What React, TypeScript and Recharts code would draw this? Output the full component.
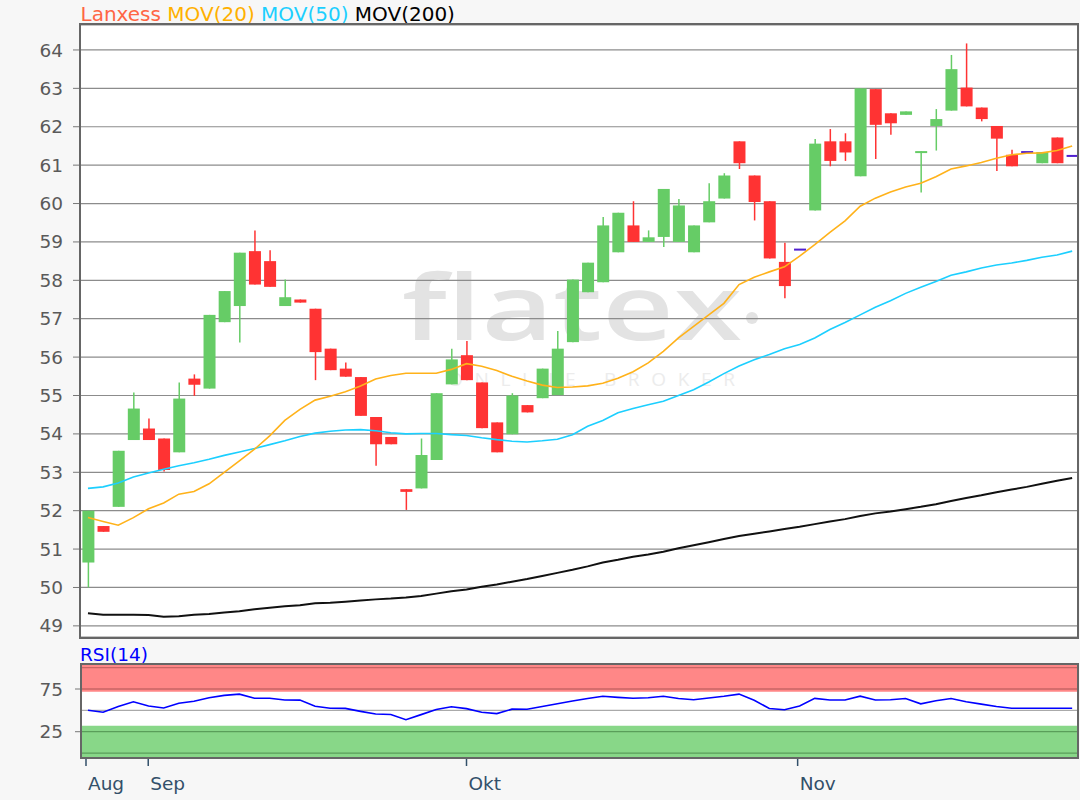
import React from "react";
import {
  ComposedChart,
  Bar,
  Line,
  XAxis,
  YAxis,
  CartesianGrid,
  ReferenceArea,
  ReferenceLine,
} from "recharts";

const FONT = '"DejaVu Sans", Verdana, sans-serif';

// daily candles, Lanxess
const OPEN = [
  50.65, 51.6, 52.1, 53.84, 54.14, 53.88, 53.52, 55.44, 55.18, 56.91,
  57.33, 58.76, 58.5, 57.33, 57.5, 57.26, 56.22, 55.7, 55.48, 54.44,
  53.92, 52.56, 52.58, 53.32, 55.29, 56.05, 55.34, 54.3, 53.99, 54.75,
  54.93, 55.01, 56.39, 57.69, 57.95, 58.73, 59.43, 59.0, 59.13, 59.0,
  58.73, 59.51, 60.13, 61.62, 60.73, 60.06, 58.48, 58.8, 59.82, 61.62,
  61.62, 60.71, 62.98, 62.35, 62.31, 61.32, 62.02, 62.42, 63.02, 62.5,
  62.02, 61.27, 61.34, 61.05, 61.72, 61.24,
];
const HIGH = [
  52.0, 51.6, 53.56, 55.08, 54.4, 53.88, 55.34, 55.55, 57.1, 57.72,
  58.72, 59.3, 58.78, 58.02, 57.5, 57.26, 56.22, 55.86, 55.48, 54.44,
  53.92, 52.56, 53.88, 55.06, 56.22, 56.42, 55.34, 54.3, 55.06, 54.75,
  55.7, 56.68, 58.02, 58.46, 59.65, 59.76, 60.06, 59.3, 60.38, 60.12,
  59.43, 60.53, 60.79, 61.62, 60.73, 60.06, 58.98, 58.8, 61.68, 61.94,
  61.83, 63.0, 62.98, 62.35, 62.4, 61.36, 62.46, 63.87, 64.17, 62.5,
  62.02, 61.4, 61.34, 61.34, 61.72, 61.24,
];
const LOW = [
  50.0, 51.45, 52.1, 53.84, 53.84, 53.02, 53.52, 54.99, 55.18, 56.91,
  56.38, 57.89, 57.83, 57.33, 57.42, 55.4, 55.66, 55.49, 54.47, 53.17,
  53.73, 52.02, 52.58, 53.32, 55.29, 55.4, 54.15, 53.52, 53.99, 54.56,
  54.93, 55.01, 56.39, 57.69, 57.95, 58.73, 59.0, 59.0, 58.87, 59.0,
  58.73, 59.51, 60.13, 60.9, 59.56, 58.57, 57.53, 58.8, 59.82, 60.97,
  61.11, 60.71, 61.16, 61.79, 62.31, 60.29, 61.38, 62.42, 62.53, 62.14,
  60.85, 60.97, 61.34, 61.05, 61.05, 61.24,
];
const CLOSE = [
  52.0, 51.45, 53.56, 54.66, 53.84, 53.06, 54.92, 55.28, 57.1, 57.72,
  58.72, 57.89, 57.83, 57.56, 57.42, 56.13, 55.66, 55.49, 54.47, 53.73,
  53.73, 52.49, 53.45, 55.06, 55.94, 55.4, 54.15, 53.52, 55.0, 54.56,
  55.7, 56.22, 58.02, 58.46, 59.43, 59.76, 59.0, 59.12, 60.38, 59.95,
  59.43, 60.06, 60.73, 61.05, 60.04, 58.57, 57.85, 58.8, 61.56, 61.11,
  61.33, 63.0, 62.05, 62.09, 62.4, 61.36, 62.2, 63.5, 62.53, 62.2,
  61.69, 60.97, 61.34, 61.34, 61.05, 61.24,
];

const MOV20 = [
  51.82, 51.72, 51.62, 51.82, 52.05, 52.2, 52.43, 52.5, 52.7, 53.0,
  53.3, 53.6, 53.95, 54.35, 54.64, 54.88, 54.98, 55.1, 55.25, 55.43,
  55.52, 55.58, 55.58, 55.58, 55.68, 55.83, 55.76, 55.65, 55.5, 55.38,
  55.27, 55.21, 55.22, 55.25, 55.32, 55.45, 55.62, 55.85, 56.15, 56.5,
  56.8, 57.1, 57.4, 57.89, 58.08, 58.22, 58.35, 58.63, 58.93, 59.25,
  59.55, 59.93, 60.14, 60.3, 60.43, 60.53, 60.7, 60.9, 60.98, 61.07,
  61.18, 61.27, 61.31, 61.32, 61.38, 61.5,
];
const MOV50 = [
  52.58, 52.62, 52.72, 52.88, 52.98, 53.08, 53.17, 53.25, 53.34, 53.44,
  53.53, 53.62, 53.72, 53.82, 53.93, 54.02, 54.07, 54.1, 54.11, 54.08,
  54.03, 54.0, 54.01, 54.01, 53.98, 53.96, 53.9, 53.85, 53.81, 53.79,
  53.82, 53.86, 53.98, 54.2, 54.35, 54.55, 54.66, 54.76, 54.85, 55.0,
  55.15, 55.35, 55.57, 55.77, 55.93, 56.07, 56.22, 56.33, 56.5, 56.72,
  56.9, 57.1, 57.3, 57.47, 57.66, 57.82, 57.97, 58.13, 58.22, 58.32,
  58.4, 58.45, 58.52, 58.6, 58.66, 58.76,
];
const MOV200 = [
  49.33, 49.29, 49.29, 49.29, 49.28, 49.24, 49.25, 49.29, 49.31, 49.35,
  49.38, 49.43, 49.47, 49.51, 49.54, 49.59, 49.6, 49.63, 49.66, 49.69,
  49.71, 49.74, 49.78, 49.84, 49.9, 49.95, 50.02, 50.08, 50.15, 50.22,
  50.3, 50.38, 50.46, 50.55, 50.65, 50.72, 50.8, 50.86, 50.93, 51.02,
  51.1, 51.18, 51.26, 51.34, 51.4, 51.46, 51.52, 51.58, 51.65, 51.72,
  51.78, 51.86, 51.93, 51.98, 52.04, 52.1, 52.17, 52.25, 52.33, 52.4,
  52.48, 52.55, 52.62, 52.7, 52.78, 52.85,
];
const RSI = [
  50.2, 47.8, 54.5, 60, 55, 52.8, 58.3, 60.7, 64.8, 67.5,
  69, 64.1, 64.1, 62.2, 62, 54.8, 52.4, 52.3, 48.8, 45.7,
  45.2, 39, 45, 51, 54.2, 52, 47.8, 46.2, 51.4, 51.3,
  54.5, 57.8, 61, 63.8, 66.5, 65.2, 64.1, 64.8, 66.5, 63.8,
  62.4, 64.4, 66.5, 69, 61.8, 52.2, 50.7, 55, 64, 62.1,
  62.1, 66.6, 62.1, 62.5, 63.8, 57.6, 61.3, 63.8, 60.1, 57.3,
  54.6, 52.4, 52.4, 52.4, 52.4, 52.4,
];

const PRICE_TICKS = [49, 50, 51, 52, 53, 54, 55, 56, 57, 58, 59, 60, 61, 62, 63, 64];
const RSI_TICKS = [25, 75];
const MONTHS = ["Aug", "Sep", "Okt", "Nov"];
const MONTH_AT = [-0.13, 3.98, 25, 46.87];
const LEGEND = [
  { label: "Lanxess", color: "#ff6644" },
  { label: "MOV(20)", color: "#ffb000" },
  { label: "MOV(50)", color: "#1ccfff" },
  { label: "MOV(200)", color: "#000000" },
];

const X_DOMAIN = [-0.46, 65.32];

const data = OPEN.map((open, i) => ({
  i,
  open,
  high: HIGH[i],
  low: LOW[i],
  close: CLOSE[i],
  mov20: MOV20[i],
  mov50: MOV50[i],
  mov200: MOV200[i],
  rsi: RSI[i],
}));

function Candle(props: any) {
  const { x, y, width, height, payload } = props;
  if (x == null || y == null || !payload) return null;
  const { open, close, high, low } = payload;
  const cx = x + width / 2;
  const top = Math.min(y, y + (height || 0));
  const bot = Math.max(y, y + (height || 0));
  const span = high - low;
  const py = (v: number) => (span > 0 ? top + ((high - v) / span) * (bot - top) : top);
  const color = open === close ? "#5020d0" : close > open ? "#66cc66" : "#ff3333";
  const yo = py(open);
  const yc = py(close);
  let bt = Math.min(yo, yc);
  let bh = Math.abs(yo - yc);
  if (bh < 2) {
    bt -= (2 - bh) / 2;
    bh = 2;
  }
  return (
    <g>
      <line x1={cx} x2={cx} y1={top} y2={bot} stroke={color} strokeWidth={1.5} />
      <rect x={cx - 6} y={bt} width={12} height={bh} fill={color} />
    </g>
  );
}

function MonthTick(props: any) {
  const { x, y, payload } = props;
  const idx = MONTH_AT.indexOf(payload.value);
  return (
    <text x={x + 2} y={y + 22} fill="#33506a" fontSize={18.5} fontFamily={FONT} textAnchor="start">
      {MONTHS[idx]}
    </text>
  );
}

const axisTick = { fill: "#5a5a5a", fontSize: 18.5, fontFamily: FONT };

export default function App() {
  return (
    <div style={{ position: "absolute", left: 0, top: 0, width: 1080, height: 800, background: "#f7f7f7", fontFamily: FONT }}>
      {/* legend */}
      <div style={{ position: "absolute", left: 80.5, top: 1.8, fontSize: 20, lineHeight: "24px", whiteSpace: "pre" }}>
        {LEGEND.map((l, k) => (
          <span key={l.label} style={{ color: l.color }}>
            {l.label}
            {k < LEGEND.length - 1 ? " " : ""}
          </span>
        ))}
      </div>

      {/* price panel */}
      <div style={{ position: "absolute", left: 81, top: 25, width: 996, height: 612, background: "#fff" }} />
      <svg width={1080} height={645} style={{ position: "absolute", left: 0, top: 0 }}>
        <text x={402} y={340} fontSize={90} fontWeight={600} fontFamily='"Open Sans", sans-serif' fill="#e3e3e3" textLength={340} lengthAdjust="spacingAndGlyphs">
          flatex
        </text>
        <circle cx={752} cy={318} r={6} fill="#e3e3e3" />
        <text x={448} y={386} fontSize={19} fontFamily='"Open Sans", sans-serif' fill="#ececec" textLength={287} lengthAdjust="spacing">
          ONLINE BROKER
        </text>
      </svg>
      <div style={{ position: "absolute", left: 0, top: 0 }}>
        <ComposedChart width={1080} height={645} data={data} margin={{ top: 25, right: 3, bottom: 8, left: 11 }}>
          <CartesianGrid vertical={false} stroke="#8c8c8c" strokeWidth={1.2} />
          <XAxis dataKey="i" type="number" domain={X_DOMAIN} allowDataOverflow hide />
          <YAxis
            width={70}
            domain={[48.71, 64.65]}
            ticks={PRICE_TICKS}
            allowDataOverflow
            axisLine={false}
            tickSize={8}
            tickMargin={10}
            tickLine={{ stroke: "#777" }}
            tick={axisTick}
            interval={0}
          />
          <Bar dataKey={(d: any) => [d.low, d.high]} barSize={12} shape={<Candle />} isAnimationActive={false} />
          <Line dataKey="mov200" stroke="#111" strokeWidth={2} dot={false} isAnimationActive={false} />
          <Line dataKey="mov50" stroke="#1ccfff" strokeWidth={1.6} dot={false} isAnimationActive={false} />
          <Line dataKey="mov20" stroke="#ffb21a" strokeWidth={1.6} dot={false} isAnimationActive={false} />
        </ComposedChart>
      </div>
      <div style={{ position: "absolute", left: 79, top: 23, width: 1000, height: 616, border: "2px solid #666", boxSizing: "border-box" }} />

      {/* RSI panel */}
      <div style={{ position: "absolute", left: 80, top: 644.6, fontSize: 18.5, lineHeight: "20px", color: "#0000ff" }}>RSI(14)</div>
      <div style={{ position: "absolute", left: 81, top: 665, width: 996, height: 92, background: "#fff" }} />
      <div style={{ position: "absolute", left: 0, top: 645 }}>
        <ComposedChart width={1080} height={155} data={data} margin={{ top: 20, right: 3, bottom: 3, left: 11 }}>
          <ReferenceArea y1={71.8} y2={103.1} fill="#ff8787" fillOpacity={1} stroke="none" ifOverflow="hidden" />
          <ReferenceArea y1={-4.6} y2={32} fill="#88d788" fillOpacity={1} stroke="none" ifOverflow="hidden" />
          <ReferenceLine y={100} stroke="#c86464" strokeWidth={1.3} />
          <ReferenceLine y={75} stroke="#c86464" strokeWidth={1.3} />
          <ReferenceLine y={25} stroke="#5a9e5a" strokeWidth={1.3} />
          <ReferenceLine y={0} stroke="#5a9e5a" strokeWidth={1.3} />
          <ReferenceLine y={50} stroke="#aaaaaa" strokeWidth={1.2} />
          <XAxis
            dataKey="i"
            type="number"
            domain={X_DOMAIN}
            allowDataOverflow
            ticks={MONTH_AT}
            interval={0}
            height={40}
            axisLine={false}
            tickSize={9}
            tickLine={{ stroke: "#33506a", strokeWidth: 1.5 }}
            tick={<MonthTick />}
          />
          <YAxis
            width={70}
            domain={[-4.6, 103.1]}
            ticks={RSI_TICKS}
            allowDataOverflow
            axisLine={false}
            tickSize={6}
            tickMargin={12}
            tickLine={{ stroke: "#777" }}
            tick={axisTick}
            interval={0}
          />
          <Line dataKey="rsi" stroke="#0000ff" strokeWidth={1.6} dot={false} isAnimationActive={false} />
        </ComposedChart>
      </div>
      <div style={{ position: "absolute", left: 80, top: 663, width: 999, height: 96, border: "2px solid #666", boxSizing: "border-box" }} />
    </div>
  );
}
